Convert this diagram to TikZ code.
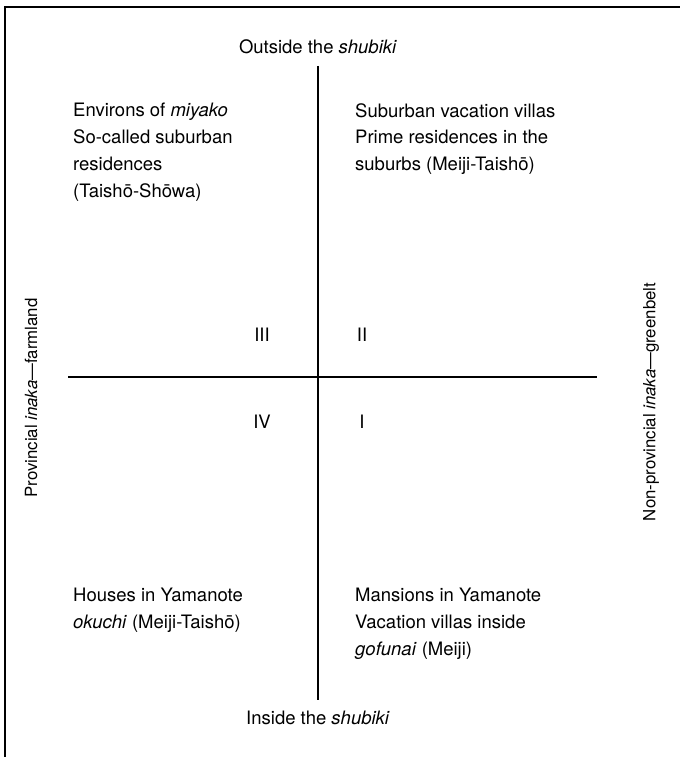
\documentclass[tikz,border=0pt]{standalone}
\usepackage{fontspec}
\setmainfont{TeX Gyre Heros}
\begin{document}
\begin{tikzpicture}[x=1pt,y=-1pt,
  lbl/.style={inner sep=0pt, font=\fontsize{18.5}{26.8}\selectfont, align=left, anchor=north west},
  num/.style={inner sep=0pt, font=\fontsize{18.5}{26.8}\selectfont},
  side/.style={inner sep=0pt, font=\fontsize{16.8}{20}\selectfont, rotate=90},
  axis/.style={line width=1.2pt},
  frame/.style={line width=1.6pt}]
\useasboundingbox (0,0) rectangle (680,757);
\draw[frame] (5,757) -- (5,7) -- (680,7);
% axis end points
\coordinate (vt) at (318,66);
\coordinate (vb) at (318,700);
\coordinate (hl) at (68,377);
\coordinate (hr) at (597,377);
\draw[axis] (vt) -- (vb);
\draw[axis] (hl) -- (hr);
% axis labels
\node[num] (outside) at (318,47) {Outside the \textit{shubiki}};
\node[num] (inside) at (318,718) {Inside the \textit{shubiki}};
\node[side] (prov) at (31,398) {Provincial \textit{inaka}—farmland};
\node[side] (nonprov) at (651,402) {Non-provincial \textit{inaka}—greenbelt};
% quadrant numerals
\node[num] (q3) at (262,335) {III};
\node[num] (q2) at (362,335) {II};
\node[num] (q4) at (262,422) {IV};
\node[num] (q1) at (362,422) {I};
% quadrant texts
\node[lbl] (tl) at (73,103) {Environs of \textit{miyako}\\So-called suburban\\residences\\(Taishō-Shōwa)};
\node[lbl] (tr) at (355,103) {Suburban vacation villas\\Prime residences in the\\suburbs (Meiji-Taishō)};
\node[lbl] (bl) at (73,588) {Houses in Yamanote\\\textit{okuchi} (Meiji-Taishō)};
\node[lbl] (br) at (355,588) {Mansions in Yamanote\\Vacation villas inside\\\textit{gofunai} (Meiji)};
\end{tikzpicture}
\end{document}
